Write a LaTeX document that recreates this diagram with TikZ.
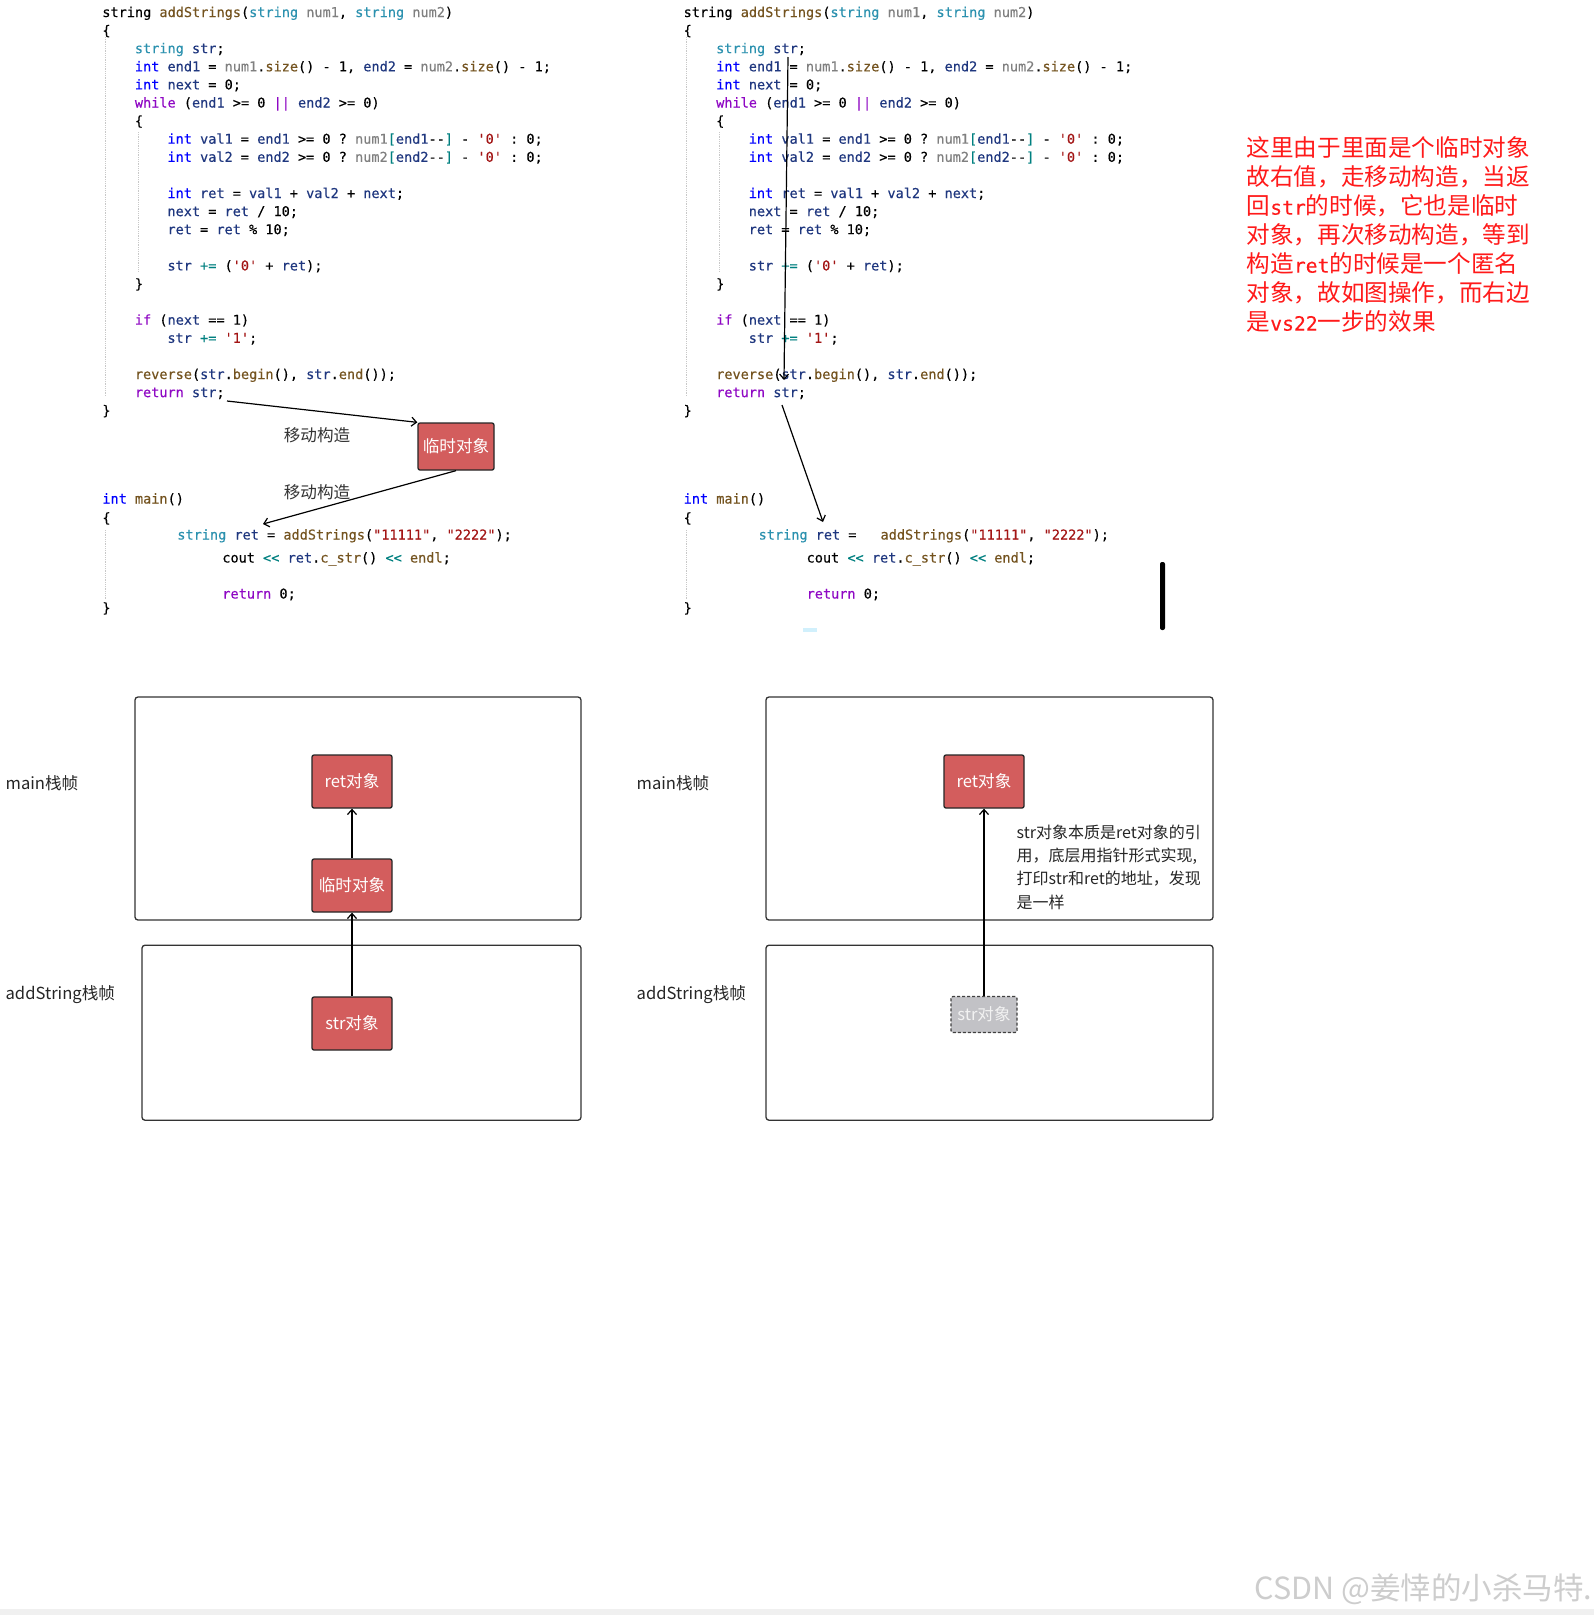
\documentclass[tikz,border=0pt]{standalone}
\usepackage{fontspec}
\setmainfont{Noto Sans CJK SC}
\setmonofont{DejaVu Sans Mono}[UprightFeatures={FakeBold=0.3}]
\usetikzlibrary{positioning, arrows.meta, calc}

\definecolor{kwblue}{HTML}{0000FF}
\definecolor{ctlpurple}{HTML}{8F08C4}
\definecolor{typeteal}{HTML}{2B91AF}
\definecolor{fnbrown}{HTML}{74531F}
\definecolor{varnavy}{HTML}{1F377F}
\definecolor{prmgray}{HTML}{808080}
\definecolor{chrred}{HTML}{A31515}
\definecolor{opteal}{HTML}{008080}
\definecolor{boxred}{HTML}{D35D5D}
\definecolor{ghostgray}{HTML}{C2C2C6}
\definecolor{guidegray}{HTML}{C8C8C8}
\definecolor{notered}{HTML}{FF1A1A}
\definecolor{markgray}{HTML}{CDCDCD}

% syntax colours
\newcommand{\kwd}[1]{\textcolor{kwblue}{#1}}
\newcommand{\ctl}[1]{\textcolor{ctlpurple}{#1}}
\newcommand{\typ}[1]{\textcolor{typeteal}{#1}}
\newcommand{\fnc}[1]{\textcolor{fnbrown}{#1}}
\newcommand{\vrb}[1]{\textcolor{varnavy}{#1}}
\newcommand{\prm}[1]{\textcolor{prmgray}{#1}}
\newcommand{\chr}[1]{\textcolor{chrred}{#1}}
\newcommand{\opr}[1]{\textcolor{opteal}{#1}}
\newcommand{\hw}[1]{{\ttfamily\fontsize{19.7}{29}\selectfont #1}}

\newcommand{\codecw}{8.14}
\newcommand{\codelh}{18.1}
% name, indent (chars), line, text
\newcommand{\srcline}[4]{\node[srccode] (#1) at (#2*\codecw, #3*\codelh) {#4};}

\newcommand{\addfunc}[1]{%
  \srcline{#1l0}{0}{0}{string \fnc{addStrings}(\typ{string} \prm{num1}, \typ{string} \prm{num2})}
  \srcline{#1l1}{0}{1}{\{}
  \srcline{#1l2}{4}{2}{\typ{string} \vrb{str};}
  \srcline{#1l3}{4}{3}{\kwd{int} \vrb{end1} = \prm{num1}.\fnc{size}() - 1, \vrb{end2} = \prm{num2}.\fnc{size}() - 1;}
  \srcline{#1l4}{4}{4}{\kwd{int} \vrb{next} = 0;}
  \srcline{#1l5}{4}{5}{\ctl{while} (\vrb{end1} >= 0 \ctl{||} \vrb{end2} >= 0)}
  \srcline{#1l6}{4}{6}{\{}
  \srcline{#1l7}{8}{7}{\kwd{int} \vrb{val1} = \vrb{end1} >= 0 ? \prm{num1}\opr{[}\vrb{end1}--\opr{]} - \chr{'0'} : 0;}
  \srcline{#1l8}{8}{8}{\kwd{int} \vrb{val2} = \vrb{end2} >= 0 ? \prm{num2}\opr{[}\vrb{end2}--\opr{]} - \chr{'0'} : 0;}
  \srcline{#1l10}{8}{10}{\kwd{int} \vrb{ret} = \vrb{val1} + \vrb{val2} + \vrb{next};}
  \srcline{#1l11}{8}{11}{\vrb{next} = \vrb{ret} / 10;}
  \srcline{#1l12}{8}{12}{\vrb{ret} = \vrb{ret} \% 10;}
  \srcline{#1l14}{8}{14}{\vrb{str} \opr{+=} (\chr{'0'} + \vrb{ret});}
  \srcline{#1l15}{4}{15}{\}}
  \srcline{#1l17}{4}{17}{\ctl{if} (\vrb{next} == 1)}
  \srcline{#1l18}{8}{18}{\vrb{str} \opr{+=} \chr{'1'};}
  \srcline{#1l20}{4}{20}{\fnc{reverse}(\vrb{str}.\fnc{begin}(), \vrb{str}.\fnc{end}());}
  \srcline{#1l21}{4}{21}{\ctl{return} \vrb{str};}
  \srcline{#1l22}{0}{22}{\}}
}

\begin{document}
\begin{tikzpicture}[x=1pt, y=-1pt, line width=1.3pt,
    srccode/.style={anchor=base west, inner sep=0pt, font=\ttfamily\fontsize{13.55}{18}\selectfont},
    objbox/.style={draw=black!85, fill=boxred, rounded corners=2pt, text=white,
      minimum width=80pt, minimum height=53pt, inner sep=0pt, font=\fontsize{16.6}{20}\selectfont},
    ghostbox/.style={draw=black!75, dash pattern=on 3pt off 2pt, fill=ghostgray, rounded corners=2pt,
      text=white!90!gray, minimum width=66pt, minimum height=36pt, inner sep=0pt, font=\fontsize{16.6}{20}\selectfont},
    stackframe/.style={draw=black!80, rounded corners=3pt, inner sep=0pt},
    lbl/.style={anchor=west, inner sep=0pt, text=black!85, font=\fontsize{16.6}{20}\selectfont},
    arr/.style={-{Straight Barb[length=5pt, width=9pt]}, line width=1.2pt},
    indentguide/.style={densely dotted, draw=guidegray, line width=0.8pt}]

  \useasboundingbox (0,0) rectangle (1594,1615);
  \fill[white] (0,0) rectangle (1594,1615);
  \fill[black!6] (0,1609) rectangle (1594,1615);

  % indent guides
  \foreach \dx in {0,581.3}{
    \draw[indentguide] (105+\dx,37) -- (105+\dx,396);
    \draw[indentguide] (138+\dx,132) -- (138+\dx,272);
    \draw[indentguide] (105+\dx,530) -- (105+\dx,600);
  }

  % left code
  \begin{scope}[shift={(101.7,17)}]
    \addfunc{L}
  \end{scope}
  \node[srccode] (Lm0) at (101.7,503.5) {\kwd{int} \fnc{main}()};
  \node[srccode] (Lm1) at (101.7,522.5) {\{};
  \node[srccode] (Lm2) at (176.7,539.5) {\typ{string} \vrb{ret} = \fnc{addStrings}(\chr{"11111"}, \chr{"2222"});};
  \node[srccode] (Lm3) at (221.7,562.5) {cout \opr{<<} \vrb{ret}.\fnc{c\_str}() \opr{<<} \fnc{endl};};
  \node[srccode] (Lm4) at (221.7,598.5) {\ctl{return} 0;};
  \node[srccode] (Lm5) at (101.7,612.5) {\}};

  % right code
  \begin{scope}[shift={(683,17)}]
    \addfunc{R}
  \end{scope}
  \node[srccode] (Rm0) at (683,503.5) {\kwd{int} \fnc{main}()};
  \node[srccode] (Rm1) at (683,522.5) {\{};
  \node[srccode] (Rm2) at (758,539.5) {\typ{string} \vrb{ret} =\hspace{24pt}\fnc{addStrings}(\chr{"11111"}, \chr{"2222"});};
  \node[srccode] (Rm3) at (806,562.5) {cout \opr{<<} \vrb{ret}.\fnc{c\_str}() \opr{<<} \fnc{endl};};
  \node[srccode] (Rm4) at (806,598.5) {\ctl{return} 0;};
  \node[srccode] (Rm5) at (683,612.5) {\}};

  % move construction, left
  \node[objbox, minimum width=76pt, minimum height=47pt] (tmp) at (456,446.5) {临时对象};
  \coordinate (Lretend) at (227,401);
  \coordinate (Lcall) at (263,524);
  \draw[arr] (Lretend) -- (tmp.north west);
  \draw[arr] (tmp.south) -- (Lcall);
  \node[inner sep=0pt, text=black!80, font=\fontsize{16.6}{20}\selectfont] (mv1) at (317,435) {移动构造};
  \node[inner sep=0pt, text=black!80, font=\fontsize{16.6}{20}\selectfont] (mv2) at (317,492) {移动构造};

  % right arrows
  \coordinate (Rstrtop) at (788,57);
  \coordinate (Rrev) at (784,380);
  \coordinate (Rretstr) at (782,405);
  \coordinate (Rcall) at (823,522);
  \draw[arr] (Rstrtop) -- (Rrev);
  \draw[arr] (Rretstr) -- (Rcall);
  \fill[black, rounded corners=2pt] (1160,562) rectangle (1165,630);
  \fill[cyan!18] (803,628) rectangle (817,632);

  % note
  \node[anchor=north west, inner sep=0pt, align=left, text=notered,
        font=\fontsize{23.6}{29}\selectfont] (note) at (1246,136)
    {这里由于里面是个临时对象\\故右值，走移动构造，当返\\回\hw{str}的时候，它也是临时\\对象，再次移动构造，等到\\构造\hw{ret}的时候是一个匿名\\对象，故如图操作，而右边\\是\hw{vs22}一步的效果};

  % stack frames, left
  \node[stackframe, minimum width=446pt, minimum height=223pt] (Lmain) at (358,808.5) {};
  \node[stackframe, minimum width=439pt, minimum height=175pt] (Ladd) at (361.5,1032.7) {};
  \node[lbl] (Lmainl) at (5,783) {main栈帧};
  \node[lbl] (Laddl) at (5,995) {addString栈帧};
  \node[objbox] (Lret) at (352,781.5) {ret对象};
  \node[objbox] (Ltmp) at (352,885.5) {临时对象};
  \node[objbox] (Lstr) at (352,1023.5) {str对象};
  \draw[arr] (Ltmp) -- (Lret);
  \draw[arr] (Lstr) -- (Ltmp);

  % stack frames, right
  \node[stackframe, minimum width=447pt, minimum height=223pt] (Rmain) at (989.5,808.5) {};
  \node[stackframe, minimum width=447pt, minimum height=175pt] (Radd) at (989.5,1032.7) {};
  \node[lbl] (Rmainl) at (636,783) {main栈帧};
  \node[lbl] (Raddl) at (636,995) {addString栈帧};
  \node[objbox] (Rret) at (984,781.5) {ret对象};
  \node[ghostbox] (Rstr) at (984,1014.5) {str对象};
  \draw[arr] (Rstr) -- (Rret);
  \node[anchor=north west, inner sep=0pt, align=left, text=black!85,
        font=\fontsize{16}{23.3}\selectfont] (refnote) at (1016,824)
    {str对象本质是ret对象的引\\用，底层用指针形式实现,\\打印str和ret的地址，发现\\是一样};

  % watermark
  \node[anchor=west, inner sep=0pt, text=markgray, font=\fontsize{30.5}{32}\selectfont] (wm) at (1254,1589) {CSDN @姜悻的小杀马特.};
\end{tikzpicture}
\end{document}
